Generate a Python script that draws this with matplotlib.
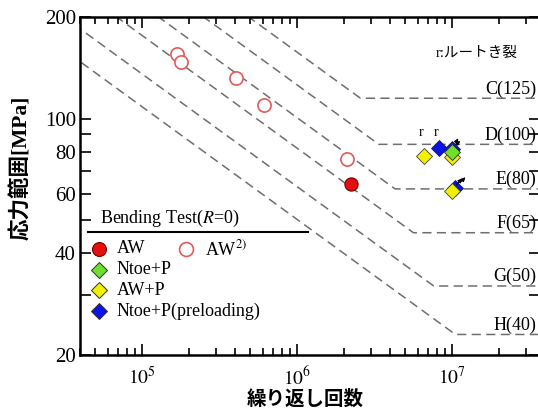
import numpy as np
import matplotlib
matplotlib.use('Agg')
import matplotlib.pyplot as plt
from matplotlib.ticker import NullFormatter

plt.rcParams['font.family'] = ['Liberation Serif', 'Noto Sans CJK JP']
plt.rcParams['mathtext.fontset'] = 'stix'

# S-N design classes (JSSC): stress range at 2e6 cycles and cut-off limit
class_names = ['C(125)', 'D(100)', 'E(80)', 'F(65)', 'G(50)', 'H(40)']
class_ref = [125, 100, 80, 65, 50, 40]
class_cutoff = [115, 84, 62, 46, 32, 23]

# test data
aw_ref_N = [1.68e5, 1.79e5, 4.04e5, 6.1e5, 2.1e6]
aw_ref_S = [155, 147, 132, 110, 76]
aw_N = [2.24e6]
aw_S = [64]
ntoe_N = [1.0e7]
ntoe_S = [79.5]
awp_N = [6.6e6, 1.0e7, 1.0e7]
awp_S = [77.5, 77.0, 61.0]
pre_N = [8.2e6, 1.0e7, 1.05e7]
pre_S = [81.7, 81.5, 62.5]
root_N = [6.3e6, 7.9e6]
root_S = [87, 87]

GREEN = '#6ee02a'
YELLOW = '#f2f000'
BLUE = '#0a14e6'
RED = '#e41010'
PINK = '#e25a5a'

fig = plt.figure(figsize=(5.38, 4.11), dpi=100)
ax = fig.add_axes([0.1487, 0.1363, 0.855, 0.8223])
ax.set_xscale('log')
ax.set_yscale('log')
ax.set_xlim(3.98e4, 3.7e7)
ax.set_ylim(20, 200)

# S-N lines (slope m=3)
for name, ref, cut in zip(class_names, class_ref, class_cutoff):
    knee = 2e6 * (ref / cut) ** 3
    N = np.array([1e4, knee, 1e8])
    S = np.array([ref * (1e4 / 2e6) ** (-1 / 3), cut, cut])
    ax.plot(N, S, ls=(0, (6, 3.5)), color='#6e6e6e', lw=1.1, zorder=1)
    ax.text(3.52e7, cut * 1.005, name, ha='right', va='bottom', fontsize=13,
            family='Liberation Serif', zorder=2)

ax.plot(aw_ref_N, aw_ref_S, 'o', ms=9.5, mfc='white', mec=PINK, mew=1.2, zorder=3)
ax.plot(aw_N, aw_S, 'o', ms=9.5, mfc=RED, mec='#700000', mew=0.8, zorder=3)
ax.plot(pre_N[2:], pre_S[2:], 'D', ms=8.5, mfc=BLUE, mec='#202020', mew=0.6, zorder=3)
ax.plot(awp_N, awp_S, 'D', ms=8.5, mfc=YELLOW, mec='#404040', mew=0.6, zorder=4)
ax.plot(ntoe_N, ntoe_S, 'D', ms=8.5, mfc=GREEN, mec='#303030', mew=0.6, zorder=5)
ax.plot(pre_N[:2], pre_S[:2], 'D', ms=8.5, mfc=BLUE, mec='#202020', mew=0.6, zorder=4)

for n, s in zip(root_N, root_S):
    ax.text(n, s, 'r', ha='center', va='bottom', fontsize=10, family='Liberation Serif')

# run-out arrows
arr = dict(arrowstyle='-|>', lw=0.8, color='black', mutation_scale=6)
ax.annotate('', xy=(1.17e7, 87), xytext=(1.03e7, 83), arrowprops=arr, zorder=6)
ax.annotate('', xy=(1.12e7, 89), xytext=(1.06e7, 85), arrowprops=arr, zorder=6)
ax.annotate('', xy=(1.2e7, 67.5), xytext=(1.04e7, 63), arrowprops=arr, zorder=6)
ax.annotate('', xy=(1.26e7, 68), xytext=(1.1e7, 64), arrowprops=arr, zorder=6)

ax.text(0.863, 0.893, 'r:ルートき裂', transform=ax.transAxes, ha='center', va='center',
        fontsize=10.5)

# legend box
tr = ax.transAxes
ax.plot([0.017, 0.496], [0.364, 0.364], color='black', lw=1.5, transform=tr, clip_on=False)
ax.text(0.196, 0.372, 'Bending Test($R$=0)', transform=tr, ha='center', va='bottom', fontsize=13)
lx, tx = 0.041, 0.080
rows = [0.3136, 0.2515, 0.192, 0.130]
ax.plot([lx], [rows[0]], 'o', ms=10, mfc=RED, mec='#700000', mew=0.8, transform=tr)
ax.text(tx, rows[0], 'AW', transform=tr, va='center', fontsize=13)
ax.plot([0.230], [rows[0]], 'o', ms=10, mfc='white', mec=PINK, mew=1.2, transform=tr)
ax.text(0.272, rows[0], 'AW$^{2)}$', transform=tr, va='center', fontsize=13)
for y, c, lab in zip(rows[1:], [GREEN, YELLOW, BLUE], ['Ntoe+P', 'AW+P', 'Ntoe+P(preloading)']):
    ax.plot([lx], [y], 'D', ms=8.5, mfc=c, mec='#303030', mew=0.7, transform=tr)
    ax.text(tx, y, lab, transform=tr, va='center', fontsize=13)

# ticks
ax.set_xticks([1e5, 1e6, 1e7])
ax.set_xticklabels(['$10^{5}$', '$10^{6}$', '$10^{7}$'], fontsize=14)
ax.xaxis.set_minor_formatter(NullFormatter())
yt = [20, 30, 40, 50, 60, 70, 80, 90, 100, 200]
ax.set_yticks(yt)
ax.set_yticklabels([str(v) if v in (20, 40, 60, 80, 100, 200) else '' for v in yt], fontsize=15)
ax.yaxis.set_minor_locator(matplotlib.ticker.NullLocator())
ax.tick_params(which='both', direction='in', top=True, right=True, width=1.2)
ax.tick_params(which='major', length=8)
ax.tick_params(which='minor', length=5)
ax.tick_params(axis='x', pad=8)
ax.tick_params(axis='y', pad=3)
for sp in ax.spines.values():
    sp.set_linewidth(1.8)

ax.set_xlabel('繰り返し回数', fontsize=14, fontweight='bold', va='center')
ax.xaxis.set_label_coords(0.489, -0.13)
ax.set_ylabel('応力範囲[MPa]', fontsize=15.5, fontweight='bold', va='center')
ax.yaxis.set_label_coords(-0.128, 0.553)

fig.savefig('out.png', dpi=100)
